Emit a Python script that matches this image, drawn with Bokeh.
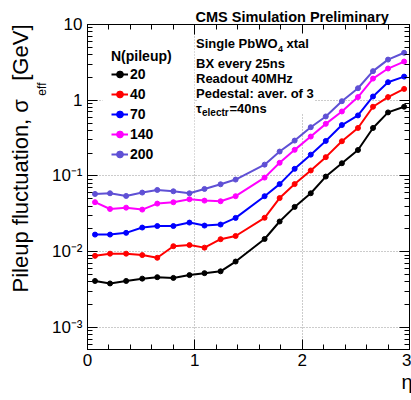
from bokeh.plotting import figure
from bokeh.models import (Label, Legend, LegendItem, LinearAxis, LogAxis, FixedTicker,
                          BoxAnnotation, Range1d, CustomJSTickFormatter, Title)
from bokeh.embed import file_html
from bokeh.resources import INLINE

# ---------------- data ----------------
eta = [0.07, 0.21, 0.36, 0.51, 0.65, 0.80, 0.95, 1.09, 1.24, 1.38,
       1.65, 1.79, 1.93, 2.08, 2.22, 2.37, 2.52, 2.66, 2.80, 2.95]

pileup_labels = ["20", "40", "70", "140", "200"]

sigma_pu20 = [0.0041, 0.0038, 0.0041, 0.0044, 0.0046, 0.0045, 0.0049, 0.0052, 0.0055, 0.0074,
              0.0147, 0.025, 0.039, 0.059, 0.098, 0.147, 0.22, 0.43, 0.69, 0.82]
sigma_pu40 = [0.0088, 0.0094, 0.0094, 0.0090, 0.0083, 0.0118, 0.0122, 0.0113, 0.0146, 0.0161,
              0.028, 0.051, 0.078, 0.118, 0.177, 0.287, 0.43, 0.82, 1.10, 1.41]
sigma_pu70 = [0.0168, 0.0168, 0.0177, 0.0208, 0.0218, 0.0218, 0.0242, 0.0221, 0.0228, 0.0279,
              0.054, 0.078, 0.124, 0.191, 0.29, 0.47, 0.63, 1.12, 1.73, 2.05]
sigma_pu140 = [0.045, 0.0366, 0.0381, 0.0359, 0.0431, 0.0449, 0.0492, 0.0472, 0.0463, 0.054,
               0.095, 0.149, 0.221, 0.331, 0.487, 0.71, 1.10, 1.93, 2.62, 3.24]
sigma_pu200 = [0.0578, 0.059, 0.0544, 0.0603, 0.0653, 0.0627, 0.059, 0.0673, 0.0776, 0.0895,
               0.141, 0.21, 0.293, 0.44, 0.61, 0.97, 1.44, 2.42, 3.44, 4.23]

series = [sigma_pu20, sigma_pu40, sigma_pu70, sigma_pu140, sigma_pu200]
colors = ["#000000", "#ff0000", "#0000ff", "#ff00ff", "#5f50d5"]

ytick_vals = [0.001, 0.01, 0.1, 1, 10]
ytick_labels = ["10\u207b\u00b3", "10\u207b\u00b2", "10\u207b\u00b9", "1", "10"]
ytick_minor = [m * 10.0 ** k for k in range(-4, 1) for m in range(2, 10)]
xtick_vals = [0, 1, 2, 3]

FONT = "Liberation Sans"
NB = "\u00a0"

# ---------------- figure ----------------
p = figure(width=411, height=400, x_range=Range1d(0, 3), y_range=Range1d(5.1e-4, 10),
           y_axis_type="log", output_backend="svg", toolbar_location=None,
           min_border_left=87, min_border_right=2, min_border_top=24, min_border_bottom=51)
p.background_fill_color = "white"
p.border_fill_color = "white"
p.outline_line_color = "black"
p.outline_line_width = 1

xticker = FixedTicker(ticks=xtick_vals, minor_ticks=[i / 5 for i in range(0, 16)])
yticker = FixedTicker(ticks=ytick_vals, minor_ticks=ytick_minor)

def style_axis(ax, show_labels):
    ax.axis_line_color = "black"
    ax.major_tick_line_color = "black"
    ax.minor_tick_line_color = "black"
    ax.major_tick_in = 10
    ax.major_tick_out = 0
    ax.minor_tick_in = 5
    ax.minor_tick_out = 0
    if show_labels:
        ax.major_label_text_font = FONT
        ax.major_label_text_font_size = "17px"
        ax.major_label_text_color = "black"
        ax.major_label_standoff = 4
    else:
        ax.formatter = CustomJSTickFormatter(code="return ''")
        ax.major_label_text_font_size = "1px"
        ax.major_label_text_alpha = 0
        ax.major_label_standoff = 0

xa = p.xaxis[0]
xa.ticker = xticker
style_axis(xa, True)

ya = p.yaxis[0]
ya.ticker = yticker
style_axis(ya, True)
ya.major_label_standoff = 5
ya.formatter = CustomJSTickFormatter(args=dict(vals=ytick_vals, labs=ytick_labels), code="""
    for (let i = 0; i < vals.length; i++) {
        if (Math.abs(Math.log10(vals[i]) - Math.log10(tick)) < 1e-6) return labs[i];
    }
    return '';
""")

top_ax = LinearAxis(ticker=xticker)
style_axis(top_ax, False)
p.add_layout(top_ax, "above")

right_ax = LogAxis(ticker=yticker)
style_axis(right_ax, False)
p.add_layout(right_ax, "right")

for g in (p.xgrid[0], p.ygrid[0]):
    g.grid_line_color = "#999999"
    g.grid_line_dash = "1 2"
    g.grid_line_width = 1
p.ygrid[0].ticker = yticker
p.xgrid[0].ticker = xticker

# ---------------- titles in the side panels ----------------
p.title.text = "CMS Simulation Preliminary"
p.title.align = "left"
p.title.offset = 108
p.title.standoff = 0
p.title.text_font = FONT
p.title.text_font_size = "14.5px"
p.title.text_font_style = "bold"
p.title.text_color = "black"

p.add_layout(Title(text="eff", align="right", offset=58, standoff=0, text_font=FONT,
                   text_font_size="12px", text_font_style="normal", text_color="black"),
             "left")
p.add_layout(Title(text="Pileup fluctuation, σ" + NB * 3 + "[GeV]", align="right", offset=0,
                   standoff=0, text_font=FONT, text_font_size="22px",
                   text_font_style="normal", text_color="black"), "left")
p.add_layout(Title(text="η", align="right", offset=-3, standoff=0, text_font=FONT,
                   text_font_size="20px", text_font_style="normal", text_color="black"),
             "below")

# ---------------- data lines ----------------
items = []
for lab_, ys, c in zip(pileup_labels, series, colors):
    r1 = p.line(eta, ys, line_color=c, line_width=2)
    r2 = p.scatter(eta, ys, marker="circle", size=5, fill_color=c, line_color=c)
    items.append(LegendItem(label=lab_, renderers=[r1, r2]))

# white boxes hiding the grid behind the legend and the info text
p.add_layout(BoxAnnotation(left=0.14, right=0.995, bottom=0.14, top=6.5,
                           fill_color="white", fill_alpha=1.0, line_color=None))
p.add_layout(BoxAnnotation(left=1.02, right=2.12, bottom=0.667, top=7.6,
                           fill_color="white", fill_alpha=1.0, line_color=None))

legend = Legend(items=items, location="top_left", margin=24, padding=0, title="N(pileup)",
                title_text_font=FONT, title_text_font_style="bold", title_text_font_size="14px",
                title_text_color="black", title_standoff=0,
                label_text_font=FONT, label_text_font_style="bold", label_text_font_size="14px",
                label_text_color="black", label_standoff=2, label_height=20, label_width=40,
                glyph_height=20, glyph_width=17, spacing=0,
                background_fill_alpha=0.0, border_line_color=None)
p.add_layout(legend)

def lab(text, x, y, size, style="bold", yoff=0):
    p.add_layout(Label(x=x, y=y, x_units="screen", y_units="screen", text=text, text_font=FONT,
                       text_font_size=size, text_font_style=style, text_color="black",
                       text_align="left", text_baseline="middle", y_offset=yoff))

lab("Single PbWO", 108.5, 305.7, "13px")
lab("4", 190.5, 305.7, "9px", yoff=-5)
lab("xtal", 199, 305.7, "13px")
lab("BX every 25ns", 108.5, 285.7, "13px")
lab("Readout 40MHz", 108.5, 270.7, "13px")
lab("Pedestal: aver. of 3", 108.5, 255.7, "13px")
lab("τ", 108.5, 241.5, "13px")
lab("electr", 114.5, 240.7, "10px", yoff=-4)
lab("=40ns", 142, 240.7, "13px")

open("out.html", "w").write(file_html(p, INLINE))
